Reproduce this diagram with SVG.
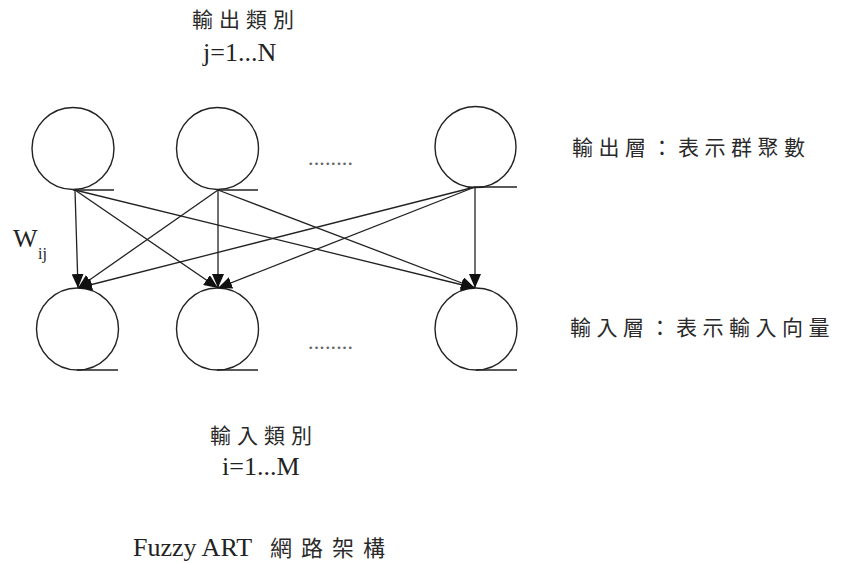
<svg xmlns="http://www.w3.org/2000/svg" width="842" height="563" viewBox="0 0 842 563">
  <defs>
    <marker id="arrow" markerUnits="userSpaceOnUse" markerWidth="14" markerHeight="12" refX="14" refY="6" orient="auto">
      <path d="M0,0 L14,6 L0,12 z" fill="#111"/>
    </marker>
    <style>
      .node circle { fill: none; stroke: #222; stroke-width: 1.4; }
      .node line { stroke: #222; stroke-width: 1.4; }
      .edge { stroke: #222; stroke-width: 1.3; fill: none; marker-end: url(#arrow); }
      .cjk { font-family: "Noto Sans CJK TC", "Noto Sans CJK SC", sans-serif; font-size: 21px; letter-spacing: 6px; fill: #2a2a2a; }
      .side { letter-spacing: 5.5px; }
      .lat { font-family: "Liberation Serif", "Times New Roman", serif; font-size: 26px; fill: #222; }
      .dots { font-family: "Liberation Serif", serif; font-size: 22px; fill: #666; }
    </style>
  </defs>
  <rect width="842" height="563" fill="#fff"/>

  <!-- output layer nodes -->
  <g id="out1" class="node"><circle cx="73" cy="148.5" r="41"/><line x1="73" y1="190" x2="114" y2="190"/></g>
  <g id="out2" class="node"><circle cx="217.5" cy="148.5" r="41"/><line x1="217" y1="190" x2="258" y2="190"/></g>
  <g id="out3" class="node"><circle cx="475.5" cy="147" r="40.5"/><line x1="475" y1="187" x2="517" y2="187"/></g>

  <!-- input layer nodes -->
  <g id="in1" class="node"><circle cx="77.5" cy="329" r="41"/><line x1="77" y1="370" x2="118" y2="370"/></g>
  <g id="in2" class="node"><circle cx="217.5" cy="329" r="41"/><line x1="217" y1="370" x2="258" y2="370"/></g>
  <g id="in3" class="node"><circle cx="476" cy="329" r="41"/><line x1="476" y1="370" x2="517" y2="370"/></g>

  <!-- weight connections W_ij -->
  <g id="connectors">
    <line class="edge" x1="75" y1="190" x2="78" y2="288"/>
    <line class="edge" x1="75" y1="190" x2="218" y2="288"/>
    <line class="edge" x1="75" y1="190" x2="475" y2="288"/>
    <line class="edge" x1="218" y1="190" x2="78" y2="288"/>
    <line class="edge" x1="218" y1="190" x2="218" y2="288"/>
    <line class="edge" x1="218" y1="190" x2="475" y2="288"/>
    <line class="edge" x1="475" y1="187" x2="78" y2="288"/>
    <line class="edge" x1="475" y1="187" x2="218" y2="288"/>
    <line class="edge" x1="475" y1="187" x2="475" y2="288"/>
  </g>

  <!-- ellipses between nodes -->
  <text class="dots" x="308" y="165" textLength="45" lengthAdjust="spacing">........</text>
  <text class="dots" x="308" y="349" textLength="45" lengthAdjust="spacing">........</text>

  <!-- labels -->
  <text class="cjk" x="192" y="27">輸出類別</text>
  <text class="lat" x="203" y="61">j=1...N</text>

  <text class="lat" x="13" y="247" font-size="24">W</text>
  <text class="lat" x="38" y="259" style="font-size:16px">ij</text>

  <text class="cjk side" x="572" y="155">輸出層：表示群聚數</text>
  <text class="cjk side" x="570" y="335">輸入層：表示輸入向量</text>

  <text class="cjk" x="210" y="443">輸入類別</text>
  <text class="lat" x="222" y="475">i=1...M</text>

  <text class="lat" x="133" y="556">Fuzzy ART <tspan class="cjk" x="270" style="font-size:22px;letter-spacing:9px">網路架構</tspan></text>
</svg>
